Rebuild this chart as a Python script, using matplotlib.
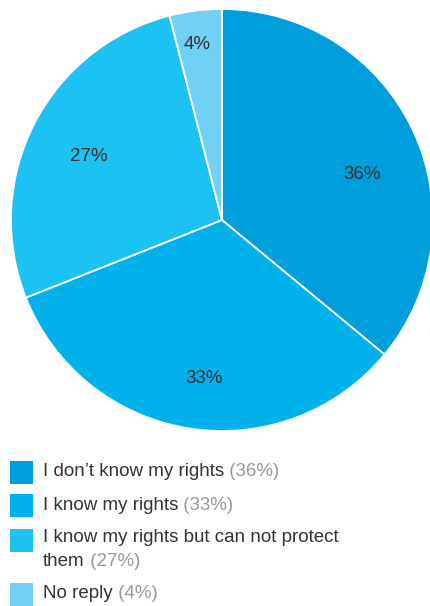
import matplotlib.pyplot as plt
from matplotlib.patches import Rectangle

plt.rcParams['font.family'] = ['Liberation Sans', 'DejaVu Sans']

# 数据
labels = ["I don\u2019t know my rights", "I know my rights",
          "I know my rights but can not protect\nthem", "No reply"]
values = [36, 33, 27, 4]
colors = ["#009fdb", "#00b1ec", "#1cc3f2", "#70d0f6"]

W, H = 430, 606
fig = plt.figure(figsize=(W / 100, H / 100), dpi=100)

# 饼图区域：圆心 (222, 220)，半径 211 像素
cx, cy, r = 222, 220, 211
ax = fig.add_axes([(cx - r) / W, (H - cy - r) / H, 2 * r / W, 2 * r / H])
wedges, texts, autotexts = ax.pie(values, colors=colors, startangle=90,
                                  counterclock=False, radius=1,
                                  autopct='%d%%', pctdistance=0.72,
                                  wedgeprops=dict(edgecolor='white', linewidth=1.3),
                                  textprops=dict(fontsize=13.5, color='#333333'))
ax.set_xlim(-1, 1)
ax.set_ylim(-1, 1)
ax.set_aspect('equal')
ax.axis('off')

# 调整百分比文字位置
pct_pos = [(0.664, 0.218), (-0.085, -0.749), (-0.630, 0.299), (-0.118, 0.830)]
for t, p in zip(autotexts, pct_pos):
    t.set_position(p)
    t.set_ha('center')
    t.set_va('center')

# 图例（手动绘制）
rows = [472, 505, 538, 594]
sq_top = [461, 494, 529, 583]
for i, (lab, v, c) in enumerate(zip(labels, values, colors)):
    yc = rows[i]
    fig.add_artist(Rectangle((10 / W, 1 - (sq_top[i] + 23) / H), 23 / W, 23 / H,
                             transform=fig.transFigure, facecolor=c, edgecolor='none'))
    t = None
    for j, line in enumerate(lab.split("\n")):
        t = fig.text(43 / W, 1 - (yc + j * 23) / H, line, fontsize=13.5,
                     color='#333333', va='center', ha='left')
    # 灰色百分比接在最后一行文字后面
    ax.annotate(f" ({v}%)", xy=(1, 0), xycoords=t, fontsize=13.5,
                color='#999999', va='bottom', ha='left',
                annotation_clip=False)

plt.savefig("out.png", dpi=100)
